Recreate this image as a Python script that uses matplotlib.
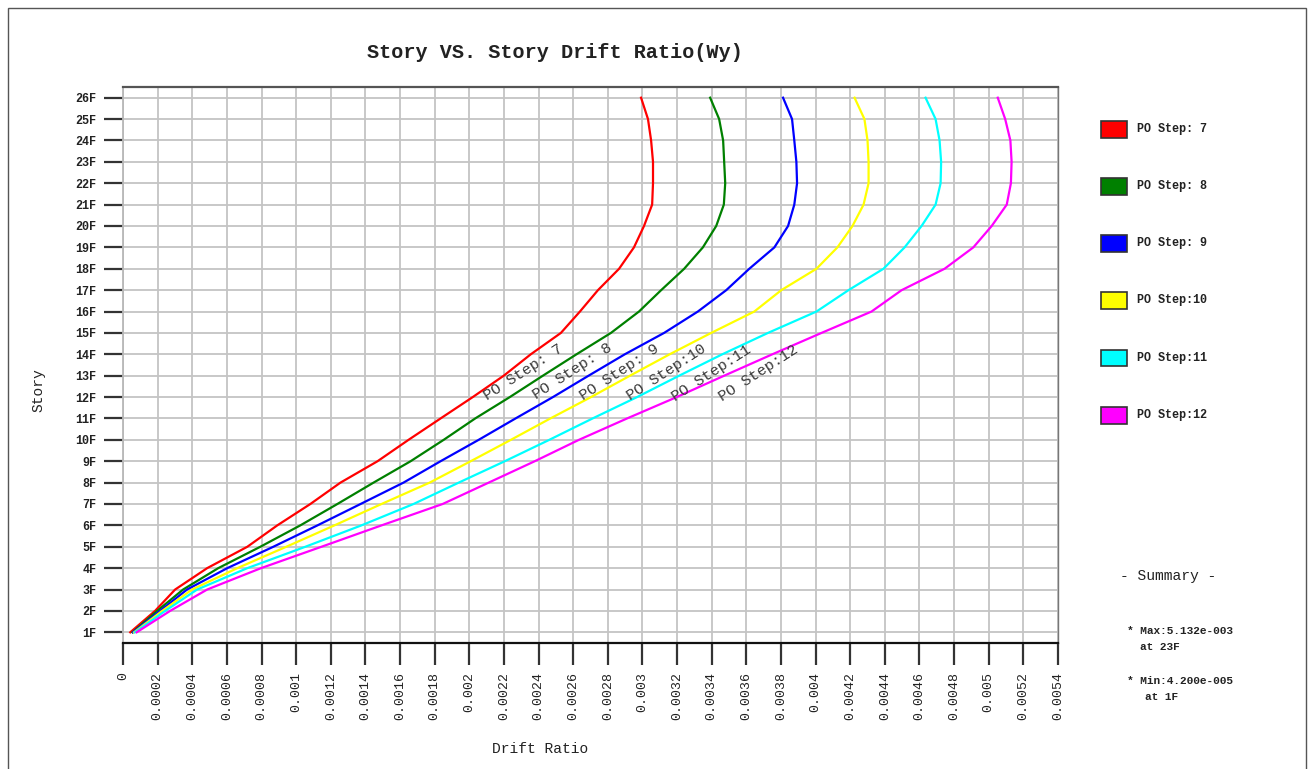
import numpy as np
import matplotlib
matplotlib.use('Agg')
import matplotlib.pyplot as plt
from matplotlib.patches import Rectangle

# story levels and drift ratios (one list per push-over step)
stories = list(range(1, 27))
story_labels = [str(s) + 'F' for s in stories]

step7 = [4.2e-5, 1.85e-4, 3.01e-4, 4.86e-4, 7.18e-4, 8.91e-4, 1.082e-3, 1.256e-3, 1.470e-3,
         1.649e-3, 1.834e-3, 2.020e-3, 2.199e-3, 2.355e-3, 2.529e-3, 2.639e-3, 2.743e-3,
         2.865e-3, 2.951e-3, 3.009e-3, 3.056e-3, 3.061e-3, 3.061e-3, 3.050e-3, 3.032e-3, 2.992e-3]
step8 = [5.5e-5, 1.97e-4, 3.47e-4, 5.50e-4, 7.93e-4, 1.024e-3, 1.238e-3, 1.447e-3, 1.661e-3,
         1.852e-3, 2.034e-3, 2.234e-3, 2.425e-3, 2.619e-3, 2.818e-3, 2.980e-3, 3.108e-3,
         3.241e-3, 3.349e-3, 3.426e-3, 3.470e-3, 3.478e-3, 3.472e-3, 3.466e-3, 3.443e-3, 3.391e-3]
step9 = [5.8e-5, 2.14e-4, 3.70e-4, 6.02e-4, 8.68e-4, 1.123e-3, 1.372e-3, 1.620e-3, 1.834e-3,
         2.054e-3, 2.267e-3, 2.483e-3, 2.689e-3, 2.898e-3, 3.125e-3, 3.320e-3, 3.484e-3,
         3.617e-3, 3.762e-3, 3.841e-3, 3.877e-3, 3.893e-3, 3.889e-3, 3.877e-3, 3.864e-3, 3.812e-3]
step10 = [6.4e-5, 2.26e-4, 3.99e-4, 6.60e-4, 9.43e-4, 1.221e-3, 1.493e-3, 1.771e-3, 2.008e-3,
          2.240e-3, 2.468e-3, 2.703e-3, 2.928e-3, 3.157e-3, 3.397e-3, 3.646e-3, 3.802e-3,
          4.005e-3, 4.126e-3, 4.213e-3, 4.277e-3, 4.306e-3, 4.306e-3, 4.300e-3, 4.282e-3, 4.225e-3]
step11 = [6.9e-5, 2.43e-4, 4.28e-4, 7.18e-4, 1.053e-3, 1.377e-3, 1.678e-3, 1.939e-3, 2.205e-3,
          2.462e-3, 2.712e-3, 2.969e-3, 3.212e-3, 3.461e-3, 3.725e-3, 4.005e-3, 4.190e-3,
          4.392e-3, 4.514e-3, 4.612e-3, 4.693e-3, 4.722e-3, 4.725e-3, 4.716e-3, 4.693e-3, 4.635e-3]
step12 = [7.9e-5, 2.72e-4, 4.86e-4, 7.97e-4, 1.146e-3, 1.493e-3, 1.846e-3, 2.112e-3, 2.378e-3,
          2.633e-3, 2.911e-3, 3.198e-3, 3.472e-3, 3.750e-3, 4.034e-3, 4.323e-3, 4.497e-3,
          4.745e-3, 4.911e-3, 5.017e-3, 5.104e-3, 5.128e-3, 5.132e-3, 5.125e-3, 5.095e-3, 5.052e-3]

series = [step7, step8, step9, step10, step11, step12]
names = ['PO Step: 7', 'PO Step: 8', 'PO Step: 9', 'PO Step:10', 'PO Step:11', 'PO Step:12']
colors = ['#ff0000', '#008000', '#0000ff', '#ffff00', '#00ffff', '#ff00ff']

# where the in-plot labels sit (drift ratio, story)
label_x = [2.315e-3, 2.597e-3, 2.866e-3, 3.137e-3, 3.401e-3, 3.671e-3]
label_y = [13.15, 13.2, 13.15, 13.15, 13.1, 13.1]

xticks = np.arange(0, 0.00541, 0.0002)
xtick_labels = ['0', '0.0002', '0.0004', '0.0006', '0.0008', '0.001', '0.0012', '0.0014',
                '0.0016', '0.0018', '0.002', '0.0022', '0.0024', '0.0026', '0.0028', '0.003',
                '0.0032', '0.0034', '0.0036', '0.0038', '0.004', '0.0042', '0.0044', '0.0046',
                '0.0048', '0.005', '0.0052', '0.0054']

mono = 'Liberation Mono'
W, H = 1314.0, 769.0

fig = plt.figure(figsize=(13.14, 7.69), dpi=100)
fig.patch.set_facecolor('white')

# outer frame of the report page
fig.add_artist(Rectangle((8/W, -0.01), (1306-8)/W, 1 - 8/H + 0.01, transform=fig.transFigure,
                         fill=False, edgecolor='#555555', linewidth=1.0))

ax = fig.add_axes([123/W, 1 - 643/H, (1058-123)/W, (643-87)/H])

for vals, col in zip(series, colors):
    ax.plot(vals, stories, color=col, linewidth=1.6)

for name, lx, ly in zip(names, label_x, label_y):
    ax.text(lx, ly, name, rotation=33, rotation_mode='anchor', ha='center', va='center',
            family=mono, fontsize=11, color='#3a3a3a')

ax.set_xlim(0, 0.0054)
ax.set_ylim(0.5, 26.5)
ax.set_xticks(xticks)
ax.set_xticklabels(xtick_labels, rotation=90, family=mono, fontsize=9.5, color='#222222')
ax.set_yticks(stories)
ax.set_yticklabels(story_labels, family=mono, fontsize=8.5, fontweight='bold', color='#222222')
ax.tick_params(axis='x', length=16, width=1.6, color='#333333', pad=5)
ax.tick_params(axis='y', length=14, width=1.6, color='#333333', pad=5)

ax.grid(True, color='#c4c4c4', linewidth=1.3)
ax.set_axisbelow(True)
ax.spines['top'].set_color('#555555')
ax.spines['top'].set_linewidth(1.6)
ax.spines['right'].set_color('#777777')
ax.spines['right'].set_linewidth(1.0)
ax.spines['left'].set_color('#b8b8b8')
ax.spines['left'].set_linewidth(1.3)
ax.spines['bottom'].set_color('#111111')
ax.spines['bottom'].set_linewidth(1.6)

# titles
fig.text(555/W, 1 - 52/H, 'Story VS. Story Drift Ratio(Wy)', ha='center', va='center',
         family=mono, fontsize=14.5, fontweight='bold', color='#222222')
fig.text(540/W, 1 - 749/H, 'Drift Ratio', ha='center', va='center',
         family=mono, fontsize=10.5, color='#222222')
fig.text(38/W, 1 - 390/H, 'Story', ha='center', va='center', rotation=90,
         family=mono, fontsize=10.5, color='#222222')

# legend on the right, drawn by hand
leg_y = [129, 186, 243, 300, 358, 415]
for name, col, yy in zip(names, colors, leg_y):
    fig.add_artist(Rectangle((1101/W, 1 - (yy + 8.5)/H), 26/W, 17/H, transform=fig.transFigure,
                             facecolor=col, edgecolor='#333333', linewidth=1.2))
    fig.text(1137/W, 1 - yy/H, name, ha='left', va='center', family=mono,
             fontsize=8.5, fontweight='bold', color='#222222')

# summary block
fig.text(1168/W, 1 - 576/H, '- Summary -', ha='center', va='center', family=mono,
         fontsize=10.5, color='#222222')
fig.text(1180/W, 1 - 631/H, '* Max:5.132e-003', ha='center', va='center', family=mono,
         fontsize=8, fontweight='bold', color='#222222')
fig.text(1160/W, 1 - 647/H, 'at 23F', ha='center', va='center', family=mono,
         fontsize=8, fontweight='bold', color='#222222')
fig.text(1180/W, 1 - 681/H, '* Min:4.200e-005', ha='center', va='center', family=mono,
         fontsize=8, fontweight='bold', color='#222222')
fig.text(1162/W, 1 - 697/H, 'at 1F', ha='center', va='center', family=mono,
         fontsize=8, fontweight='bold', color='#222222')

fig.savefig('out.png', dpi=100)
